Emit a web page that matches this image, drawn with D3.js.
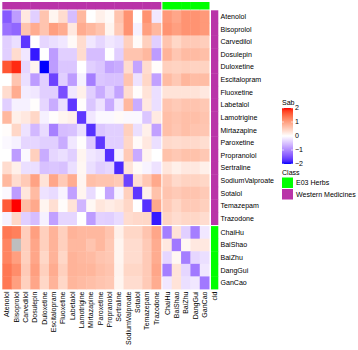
<!DOCTYPE html>
<html>
<head>
<meta charset="utf-8">
<script src="https://cdn.jsdelivr.net/npm/d3@7"></script>
<style>
  body { margin: 0; background: #fff; }
  text { font-family: "Liberation Sans", Arial, sans-serif; fill: #000; }
</style>
</head>
<body>
<div id="chart"></div>
<script>
let width = 358, height = 350;
const fs = 7.05;

// row / column names
const drugs = ["Atenolol", "Bisoprolol", "Carvedilol", "Dosulepin", "Duloxetine", "Escitalopram",
  "Fluoxetine", "Labetalol", "Lamotrigine", "Mirtazapine", "Paroxetine", "Propranolol",
  "Sertraline", "SodiumValproate", "Sotalol", "Temazepam", "Trazodone"];
const herbs = ["ChaiHu", "BaiShao", "BaiZhu", "DangGui", "GanCao"];
const classNames = ["E03 Herbs", "Western Medicines"];
const classColors = ["#00ff00", "#b934a8"];
const legendTicks = [2, 1, 0, -1, -2];

// Sab values, one row per row name (17 drug columns then 5 herb columns), null = NA
const sab = [
  [-1.4, -0.84, 0.24, -0.4, 0.62, 0.11, 0.37, -0.55, 0.75, 0, 0.16, 0.05, 0.62, 1.12, 0, 1.12, -0.2, 1.06, 0.93, 1.12, 1.12, 1.06],
  [-1.2, -1.3, 0.62, 0.87, 0.62, 1.0, 0.87, 0.24, 0.87, 0.75, 0.62, 0.11, 0.56, 1.12, -0.12, 1.0, 0.75, 1.12, 1.0, 1.12, 1.12, 1.06],
  [-0.4, -0.27, -1.7, 0, -0.34, -0.27, -0.2, 0.05, 0.37, -0.2, -0.34, -0.2, -0.27, 0.5, 0.05, 0.5, -0.4, 0.62, 0.43, 0.56, 0.56, 0.52],
  [-0.4, 0.37, -0.2, -1.9, 0, -0.84, -0.4, -0.4, 0.37, -0.55, -0.55, 0, -0.4, 0.62, 0.62, 0.75, -0.84, 0.8, 0.6, 0.72, 0.72, 0.68],
  [1.65, 1.9, -0.34, 0.11, -2.0, -0.84, -0.48, -0.48, 0, -0.4, -0.48, -0.77, -0.7, 0.37, -0.77, 0.37, 0.03, 0.5, 0.47, 0.5, 0.47, 0.47],
  [0, 0.62, -0.27, -0.84, -0.4, -1.6, -0.4, -0.84, -0.12, -1.1, -0.48, -0.52, -0.52, 0.62, -0.24, 0.43, -0.8, 0.72, 0.58, 0.77, 0.7, 0.7],
  [0.37, 0.87, -0.16, -0.2, -0.4, -0.4, -1.5, -0.2, 0.16, -0.4, -0.7, -0.38, -0.77, 0.37, 0.03, 0.3, -0.27, 0.3, 0.3, 0.3, 0.3, 0.24],
  [-0.4, -0.12, -0.12, 0.02, -0.34, -0.7, -0.27, -1.7, 0.02, -0.48, -0.24, -0.7, -0.2, 0.75, -0.7, 0.24, -0.27, 0.62, 0.56, 0.62, 0.62, 0.58],
  [0.75, 0.16, 0.24, 0.43, -0.12, 0.02, 0.11, 0.16, -1.7, -0.2, -0.06, -0.06, 0.05, -0.06, -0.06, -0.48, 0.22, 0.68, 0.62, 0.68, 0.68, 0.62],
  [0.03, 0.43, -0.24, -0.6, -0.3, -1.08, -0.55, -0.52, -0.27, -1.75, -0.48, -0.4, -0.4, 0.5, -0.27, 0.16, -0.8, 0.68, 0.6, 0.68, 0.62, 0.6],
  [-0.06, -0.12, -0.34, -0.34, -0.4, -0.4, -0.7, -0.2, 0.02, -0.44, -1.7, -0.4, -0.4, 0.43, 0.05, 0.24, -0.27, 0.4, 0.37, 0.4, 0.4, 0.35],
  [0, -0.84, -0.06, 0.5, -0.7, -0.34, -0.27, -0.4, 0.11, -0.2, -0.27, -1.75, -0.12, 0.56, -0.72, 0.13, 0, 0.65, 0.58, 0.65, 0.65, 0.58],
  [0.37, 0.16, -0.27, -0.27, -0.52, -0.48, -0.52, -0.27, 0.09, -0.27, -0.4, -0.34, -1.8, 0.3, 0.05, -0.1, -0.24, 0.27, 0.16, 0.24, 0.24, 0.16],
  [0.75, 0.37, 0.56, 0.97, 0.3, 0.93, 0.56, 0.87, 0.11, 0.68, 0.62, 0.62, 0.56, -1.6, 0.34, 0.58, 0.9, 0.56, 0.4, 0.47, 0.47, 0.43],
  [-0.06, -0.84, 0.27, 0.72, -0.24, -0.3, -0.1, -0.8, 0.11, -0.3, 0, -0.77, -0.1, 0.5, -1.7, 0.16, 0.65, 0.62, 0.56, 0.62, 0.62, 0.56],
  [1.6, 2.0, 0.7, 0.9, 0.11, 0.34, 0.03, 0.3, -0.62, 0.08, 0.27, 0.2, 0.27, 0.43, 0, -1.75, 0.9, 0.56, 0.43, 0.56, 0.56, 0.5],
  [-0.12, 0.43, -0.4, -0.55, -0.12, -0.8, -0.34, -0.34, 0, -0.84, -0.38, -0.4, -0.3, 0.37, 0.41, 0.43, -1.9, 0.46, 0.37, 0.43, 0.43, 0.37],
  [1.37, 1.3, 0.52, 1.0, 0.5, 0.8, 0.5, 0.8, 0.75, 0.75, 0.75, 0.62, 0.16, 0.43, 0.43, 0.62, 0.93, -1.1, 0.3, -0.4, -1.1, -0.2],
  [1.25, null, 0.52, 0.93, 0.5, 0.8, 0.5, 0.75, 0.75, 0.62, 0.75, 0.58, 0.11, 0.37, 0.37, 0.56, 0.87, 0.24, -1.15, 0.09, 0.24, 0.24],
  [1.25, 1.0, 0.5, 0.93, 0.43, 0.8, 0.43, 0.8, 0.75, 0.72, 0.62, 0.58, 0.11, 0.37, 0.37, 0.56, 0.87, -0.34, 0.09, -1.1, -0.34, -0.27],
  [1.37, 1.18, 0.56, 1.0, 0.5, 0.87, 0.5, 0.8, 0.77, 0.77, 0.68, 0.62, 0.13, 0.43, 0.43, 0.56, 0.93, -1.1, 0.3, -0.34, -1.15, -0.2],
  [1.37, 1.0, 0.5, 0.93, 0.43, 0.8, 0.43, 0.77, 0.72, 0.68, 0.62, 0.58, 0.11, 0.37, 0.37, 0.56, 0.87, -0.2, 0.3, -0.27, -0.2, -1.15]
];

const names = drugs.concat(herbs);
const cells = [];
sab.forEach((row, i) => row.forEach((v, j) => cells.push({ r: names[i], c: names[j], v: v })));

const svg = d3.select("#chart").append("svg")
  .attr("width", width).attr("height", height);

// two column blocks and two row blocks with a small gap between them
const xDrug = d3.scaleBand().domain(drugs).range([2.3, 160.9]);
const xHerb = d3.scaleBand().domain(herbs).range([162.4, 209.1]);
const yDrug = d3.scaleBand().domain(drugs).range([10.3, 224.6]);
const yHerb = d3.scaleBand().domain(herbs).range([226.1, 289]);
const isHerb = n => herbs.includes(n);
const xOf = n => isHerb(n) ? xHerb(n) : xDrug(n);
const yOf = n => isHerb(n) ? yHerb(n) : yDrug(n);
const cw = n => isHerb(n) ? xHerb.bandwidth() : xDrug.bandwidth();
const rh = n => isHerb(n) ? yHerb.bandwidth() : yDrug.bandwidth();

const color = d3.scaleLinear().domain([-2, 0, 2]).range(["blue", "white", "red"])
  .interpolate(d3.interpolateLab).clamp(true);

svg.append("g").selectAll("rect")
  .data(cells)
  .join("rect")
  .attr("x", d => xOf(d.c))
  .attr("y", d => yOf(d.r))
  .attr("width", d => cw(d.c) + 0.4)
  .attr("height", d => rh(d.r) + 0.4)
  .attr("fill", d => d.v == null ? "#bebebe" : color(d.v));

// class annotation (top and right)
const cls = n => isHerb(n) ? classColors[0] : classColors[1];
svg.append("g").selectAll("rect")
  .data(names)
  .join("rect")
  .attr("x", d => xOf(d)).attr("y", 2)
  .attr("width", d => cw(d) + 0.4).attr("height", 7.5)
  .attr("fill", cls);
svg.append("g").selectAll("rect")
  .data(names)
  .join("rect")
  .attr("x", 211).attr("y", d => yOf(d))
  .attr("width", 7.3).attr("height", d => rh(d) + 0.4)
  .attr("fill", cls);

// row labels
svg.append("g").selectAll("text")
  .data(names)
  .join("text")
  .attr("x", 220.5)
  .attr("y", d => yOf(d) + rh(d) / 2)
  .attr("dy", "0.35em")
  .attr("font-size", fs)
  .text(d => d);

// column labels (rotated)
svg.append("g").selectAll("text")
  .data(names)
  .join("text")
  .attr("transform", d => `translate(${xOf(d) + cw(d) / 2},291.5) rotate(-90)`)
  .attr("dy", "0.35em")
  .attr("text-anchor", "end")
  .attr("font-size", fs)
  .text(d => d);

svg.append("text")
  .attr("transform", "translate(214.6,291.5) rotate(-90)")
  .attr("dy", "0.35em").attr("text-anchor", "end")
  .attr("font-size", fs).text("cld");

// Sab colour legend
const lg = svg.append("g");
const ly = d3.scaleLinear().domain([2, -2]).range([108, 164]);
const grad = svg.append("defs").append("linearGradient")
  .attr("id", "sabGrad").attr("x1", 0).attr("y1", 0).attr("x2", 0).attr("y2", 1);
d3.range(0, 1.0001, 0.05).forEach(t => {
  grad.append("stop").attr("offset", t).attr("stop-color", color(2 - 4 * t));
});
lg.append("text").attr("x", 282).attr("y", 104.5).attr("font-size", fs).text("Sab");
lg.append("rect").attr("x", 282).attr("y", ly(2)).attr("width", 11)
  .attr("height", ly(-2) - ly(2)).attr("fill", "url(#sabGrad)");
lg.selectAll("line.tk")
  .data(legendTicks)
  .join("line")
  .attr("class", "tk")
  .attr("x1", 291).attr("x2", 293)
  .attr("y1", d => ly(d)).attr("y2", d => ly(d))
  .attr("stroke", "#fff").attr("stroke-width", 0.6);
lg.selectAll("line.tk2")
  .data(legendTicks)
  .join("line")
  .attr("class", "tk2")
  .attr("x1", 282).attr("x2", 284)
  .attr("y1", d => ly(d)).attr("y2", d => ly(d))
  .attr("stroke", "#fff").attr("stroke-width", 0.6);
lg.selectAll("text.tl")
  .data(legendTicks)
  .join("text")
  .attr("class", "tl")
  .attr("x", 295).attr("y", d => ly(d)).attr("dy", "0.35em")
  .attr("font-size", fs)
  .text(d => d < 0 ? "\u2212" + Math.abs(d) : d);

// Class legend
const cl = svg.append("g");
cl.append("text").attr("x", 282).attr("y", 175).attr("font-size", fs).text("Class");
cl.selectAll("rect")
  .data(classNames)
  .join("rect")
  .attr("x", 282).attr("y", (d, i) => 177.5 + i * 11.5)
  .attr("width", 11).attr("height", 10.5)
  .attr("fill", (d, i) => classColors[i]);
cl.selectAll("text.cn")
  .data(classNames)
  .join("text")
  .attr("class", "cn")
  .attr("x", 296).attr("y", (d, i) => 182.8 + i * 11.5).attr("dy", "0.35em")
  .attr("font-size", fs)
  .text(d => d);
</script>
</body>
</html>
